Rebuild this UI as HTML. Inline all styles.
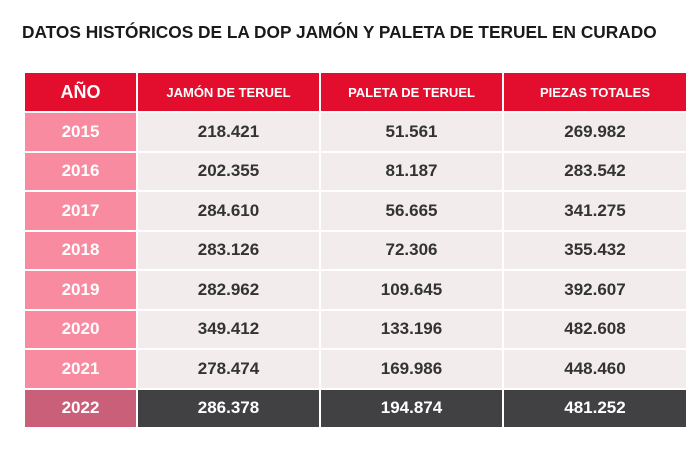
<!DOCTYPE html>
<html><head><meta charset="utf-8"><style>
body{margin:0;width:700px;height:451px;background:#fff;position:relative;overflow:hidden;font-family:"Liberation Sans",sans-serif}
.t{position:absolute;left:22px;top:22px;font-size:17.3px;font-weight:bold;color:#1a1a1a;white-space:nowrap}
.c{position:absolute;display:flex;align-items:center;justify-content:center;font-weight:bold;box-sizing:border-box;height:37.5px;font-size:17px;background:#f2eced;color:#333}
.a{left:25px;width:111px;background:#f98ba0;color:#fff}
.b{left:138px;width:181px}
.d{left:321px;width:181px}
.e{left:504px;width:182px}
.h{height:38px;background:#e30d2d;color:#fff;font-size:13px;top:73px}
.l{background:#414042;color:#fff}
.a.l{background:#c95f78}
</style></head><body>
<div class="t">DATOS HISTÓRICOS DE LA DOP JAMÓN Y PALETA DE TERUEL EN CURADO</div>
<div class="c h a" style="font-size:18px">AÑO</div><div class="c h b">JAMÓN DE TERUEL</div><div class="c h d">PALETA DE TERUEL</div><div class="c h e">PIEZAS TOTALES</div>
<div class="c a" style="top:113px">2015</div><div class="c b" style="top:113px">218.421</div><div class="c d" style="top:113px">51.561</div><div class="c e" style="top:113px">269.982</div>
<div class="c a" style="top:152.5px">2016</div><div class="c b" style="top:152.5px">202.355</div><div class="c d" style="top:152.5px">81.187</div><div class="c e" style="top:152.5px">283.542</div>
<div class="c a" style="top:192px">2017</div><div class="c b" style="top:192px">284.610</div><div class="c d" style="top:192px">56.665</div><div class="c e" style="top:192px">341.275</div>
<div class="c a" style="top:231.5px">2018</div><div class="c b" style="top:231.5px">283.126</div><div class="c d" style="top:231.5px">72.306</div><div class="c e" style="top:231.5px">355.432</div>
<div class="c a" style="top:271px">2019</div><div class="c b" style="top:271px">282.962</div><div class="c d" style="top:271px">109.645</div><div class="c e" style="top:271px">392.607</div>
<div class="c a" style="top:310.5px">2020</div><div class="c b" style="top:310.5px">349.412</div><div class="c d" style="top:310.5px">133.196</div><div class="c e" style="top:310.5px">482.608</div>
<div class="c a" style="top:350px">2021</div><div class="c b" style="top:350px">278.474</div><div class="c d" style="top:350px">169.986</div><div class="c e" style="top:350px">448.460</div>
<div class="c a l" style="top:389.5px">2022</div><div class="c b l" style="top:389.5px">286.378</div><div class="c d l" style="top:389.5px">194.874</div><div class="c e l" style="top:389.5px">481.252</div>
</body></html>
